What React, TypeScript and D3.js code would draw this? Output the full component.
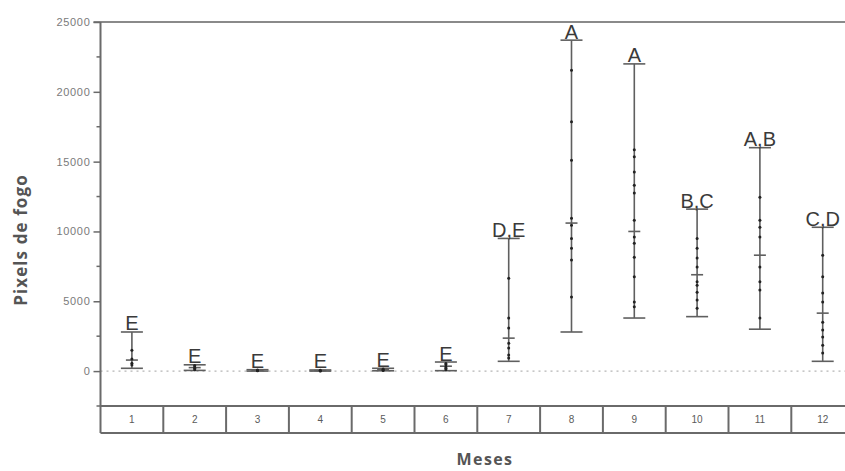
import React, { useEffect, useRef } from 'react';
import * as d3 from 'd3';

const months = ['1', '2', '3', '4', '5', '6', '7', '8', '9', '10', '11', '12'];
const maxVals = [2800, 450, 100, 80, 200, 650, 9500, 23700, 22000, 11600, 16000, 10300];
const minVals = [200, 50, 0, 0, 20, 30, 700, 2800, 3800, 3900, 3000, 700];
const meanVals = [790, 250, 50, 40, 100, 350, 2360, 10600, 10000, 6900, 8300, 4150];
const groupLabels = ['E', 'E', 'E', 'E', 'E', 'E', 'D,E', 'A', 'A', 'B,C', 'A,B', 'C,D'];
const monthPoints = [
  [430, 570, 860, 1500],
  [100, 200, 300, 400],
  [20, 50, 80],
  [10, 30, 60],
  [50, 100, 150],
  [100, 200, 300, 450, 550],
  [930, 1150, 1650, 2000, 3080, 3800, 6650],
  [5300, 7950, 8800, 9500, 10450, 10950, 15100, 17850, 21550],
  [4600, 4950, 6750, 8150, 9150, 9600, 10800, 12750, 13300, 14250, 15350, 15850],
  [4500, 5100, 5650, 6150, 6400, 7450, 8100, 8800, 9500],
  [3800, 5800, 6400, 7450, 9600, 10300, 10800, 12450],
  [1300, 1850, 2450, 2950, 3500, 4950, 5600, 6750, 8300],
];
const majorTicks = [0, 5000, 10000, 15000, 20000, 25000];
const minorTicks = [-2500, 2500, 7500, 12500, 17500, 22500];

const W = 845;
const H = 471;

const App: React.FC = () => {
  const svgRef = useRef<SVGSVGElement>(null);

  useEffect(() => {
    if (!svgRef.current) return;
    const svg = d3.select(svgRef.current);
    svg.selectAll('*').remove();

    const left = 100.5;
    const step = 62.8;
    const boxBottom = 433;

    const x = d3.scaleBand()
      .domain(months)
      .range([left, left + step * months.length])
      .padding(0);

    const y = d3.scaleLinear()
      .domain([-2500, 25000])
      .range([406, 22]);

    const lineColor = '#5f5f5f';
    const cx = (m: string) => (x(m) || 0) + x.bandwidth() / 2;

    // frame: top border
    svg.append('line')
      .attr('x1', left - 7).attr('x2', W + 20)
      .attr('y1', y(25000)).attr('y2', y(25000))
      .attr('stroke', '#8a8a8a').attr('stroke-width', 2);

    // zero line
    svg.append('line')
      .attr('x1', left).attr('x2', W + 20)
      .attr('y1', y(0)).attr('y2', y(0))
      .attr('stroke', '#b5b5b5').attr('stroke-width', 1.3)
      .attr('stroke-dasharray', '2,4');

    // y axis
    const yAxis = svg.append('g')
      .attr('transform', `translate(${left},0)`)
      .call(d3.axisLeft(y).tickValues(majorTicks).tickSize(7).tickPadding(3).tickFormat(d3.format('d')))
      .call(g => g.select('.domain').remove())
      .call(g => g.selectAll('.tick line').attr('stroke', '#6a6a6a').attr('stroke-width', 1.5))
      .call(g => g.selectAll('.tick text')
        .attr('fill', '#7a7a7a')
        .attr('font-size', 11)
        .attr('letter-spacing', 0.7)
        .attr('font-family', 'Liberation Sans, Arial, sans-serif'));

    yAxis.selectAll('.minor')
      .data(minorTicks)
      .enter().append('line')
      .attr('x1', -4).attr('x2', 0)
      .attr('y1', d => y(d)).attr('y2', d => y(d))
      .attr('stroke', '#6a6a6a').attr('stroke-width', 1.5);

    svg.append('line')
      .attr('x1', left).attr('x2', left)
      .attr('y1', y(25000)).attr('y2', boxBottom)
      .attr('stroke', '#6a6a6a').attr('stroke-width', 2);

    // category box
    svg.append('line')
      .attr('x1', left).attr('x2', W + 20)
      .attr('y1', y(-2500)).attr('y2', y(-2500))
      .attr('stroke', '#6a6a6a').attr('stroke-width', 2);
    svg.append('line')
      .attr('x1', left).attr('x2', W + 20)
      .attr('y1', boxBottom).attr('y2', boxBottom)
      .attr('stroke', '#6a6a6a').attr('stroke-width', 2);
    svg.selectAll('.divider')
      .data(months.slice(1))
      .enter().append('line')
      .attr('x1', d => x(d) || 0).attr('x2', d => x(d) || 0)
      .attr('y1', y(-2500)).attr('y2', boxBottom)
      .attr('stroke', '#6a6a6a').attr('stroke-width', 2);
    svg.selectAll('.cat-label')
      .data(months)
      .enter().append('text')
      .attr('x', d => cx(d))
      .attr('y', (y(-2500) + boxBottom) / 2 + 3.5)
      .attr('text-anchor', 'middle')
      .attr('font-size', 10)
      .attr('font-family', 'Liberation Sans, Arial, sans-serif')
      .attr('fill', '#5a5a5a')
      .text(d => d);

    // error bars
    const bars = svg.selectAll<SVGGElement, string>('.bar')
      .data(months)
      .enter().append('g')
      .attr('class', 'bar');

    bars.append('line')
      .attr('x1', d => cx(d)).attr('x2', d => cx(d))
      .attr('y1', (_, i) => y(maxVals[i])).attr('y2', (_, i) => y(minVals[i]))
      .attr('stroke', lineColor).attr('stroke-width', 1.6);

    bars.append('line')
      .attr('x1', d => cx(d) - 11).attr('x2', d => cx(d) + 11)
      .attr('y1', (_, i) => y(maxVals[i])).attr('y2', (_, i) => y(maxVals[i]))
      .attr('stroke', lineColor).attr('stroke-width', 1.6);

    bars.append('line')
      .attr('x1', d => cx(d) - 11).attr('x2', d => cx(d) + 11)
      .attr('y1', (_, i) => y(minVals[i])).attr('y2', (_, i) => y(minVals[i]))
      .attr('stroke', lineColor).attr('stroke-width', 1.6);

    bars.append('line')
      .attr('x1', d => cx(d) - 6).attr('x2', d => cx(d) + 6)
      .attr('y1', (_, i) => y(meanVals[i])).attr('y2', (_, i) => y(meanVals[i]))
      .attr('stroke', lineColor).attr('stroke-width', 1.6);

    bars.selectAll('circle')
      .data((_, i) => monthPoints[i])
      .enter().append('circle')
      .attr('cx', function () {
        const m = d3.select((this as SVGCircleElement).parentNode as SVGGElement).datum() as string;
        return cx(m);
      })
      .attr('cy', d => y(d))
      .attr('r', 1.5)
      .attr('fill', '#222');

    bars.append('text')
      .attr('x', d => cx(d))
      .attr('y', (_, i) => y(maxVals[i]) - 1.5)
      .attr('text-anchor', 'middle')
      .attr('font-size', 20)
      .attr('font-family', 'Liberation Sans, Arial, sans-serif')
      .attr('fill', '#3a3a3a')
      .text((_, i) => groupLabels[i]);

    // axis titles
    svg.append('text')
      .attr('transform', 'translate(27,240) rotate(-90)')
      .attr('text-anchor', 'middle')
      .attr('font-size', 17)
      .attr('letter-spacing', 1.1)
      .attr('font-weight', 'bold')
      .attr('font-family', 'Open Sans, sans-serif')
      .attr('fill', '#555')
      .text('Pixels de fogo');

    svg.append('text')
      .attr('x', 485)
      .attr('y', 465)
      .attr('text-anchor', 'middle')
      .attr('font-size', 16)
      .attr('letter-spacing', 1.4)
      .attr('font-weight', 'bold')
      .attr('font-family', 'Open Sans, sans-serif')
      .attr('fill', '#555')
      .text('Meses');
  }, []);

  return (
    <div style={{ position: 'fixed', left: 0, top: 0, width: W, height: H, background: '#fff' }}>
      <svg ref={svgRef} width={W} height={H} />
    </div>
  );
};

export default App;
